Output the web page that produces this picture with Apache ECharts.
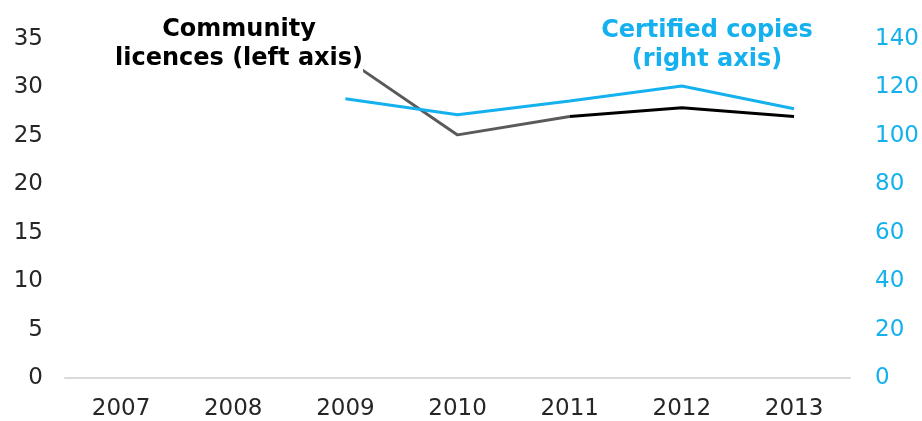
<!DOCTYPE html>
<html>
<head>
<meta charset="utf-8">
<script src="https://cdn.jsdelivr.net/npm/echarts@6/dist/echarts.min.js"></script>
<style>
  html, body { margin: 0; padding: 0; background: #fff; }
  #chart { width: 922px; height: 421px; }
</style>
</head>
<body>
<div id="chart"></div>
<script>
const years = ['2007', '2008', '2009', '2010', '2011', '2012', '2013']
// community licences, left axis (first part drawn grey, later part black)
const licencesEarly = [null, null, 33.0, 25.1, 27.0, null, null]
const licencesLate = [null, null, null, null, 27.0, 27.9, 27.0]
// certified copies, right axis
const copies = [null, null, 115.3, 108.7, 114.4, 120.6, 111.2]

const blue = '#14b1ee'
const font = 'DejaVu Sans'

let myChart = echarts.init(document.getElementById('chart'), null, { renderer: 'canvas' })

let option
option = {
  animation: false,
  grid: { left: 65, right: 70, top: 39, bottom: 42 },
  xAxis: {
    type: 'category',
    data: years,
    axisLine: { lineStyle: { color: '#d9d9d9', width: 2 } },
    axisTick: { show: false },
    axisLabel: { color: '#262626', fontFamily: font, fontSize: 23, margin: 20 }
  },
  yAxis: [
    {
      type: 'value',
      min: 0, max: 35, interval: 5,
      splitLine: { show: false },
      axisLine: { show: false },
      axisTick: { show: false },
      axisLabel: { color: '#262626', fontFamily: font, fontSize: 23, margin: 22 }
    },
    {
      type: 'value',
      min: 0, max: 140, interval: 20,
      splitLine: { show: false },
      axisLine: { show: false },
      axisTick: { show: false },
      axisLabel: { color: blue, fontFamily: font, fontSize: 23, margin: 25 }
    }
  ],
  series: [
    {
      type: 'line',
      yAxisIndex: 0,
      data: licencesEarly,
      symbol: 'none',
      lineStyle: { color: '#5a5a5a', width: 3 },
      z: 2
    },
    {
      type: 'line',
      yAxisIndex: 0,
      data: licencesLate,
      symbol: 'none',
      lineStyle: { color: '#000', width: 3 },
      z: 2
    },
    {
      type: 'line',
      yAxisIndex: 1,
      data: copies,
      symbol: 'none',
      lineStyle: { color: blue, width: 3 },
      z: 3
    }
  ],
  graphic: [
    {
      type: 'text',
      x: 239, y: 15,
      z: 100,
      style: {
        text: 'Community\nlicences (left axis)',
        fill: '#000',
        font: 'bold 24px "DejaVu Sans"',
        align: 'center',
        verticalAlign: 'top',
        lineHeight: 29,
        backgroundColor: '#fff'
      }
    },
    {
      type: 'text',
      x: 707, y: 16,
      z: 100,
      style: {
        text: 'Certified copies\n(right axis)',
        fill: blue,
        font: 'bold 24px "DejaVu Sans"',
        align: 'center',
        verticalAlign: 'top',
        lineHeight: 29
      }
    }
  ]
}
myChart.setOption(option)
</script>
</body>
</html>
